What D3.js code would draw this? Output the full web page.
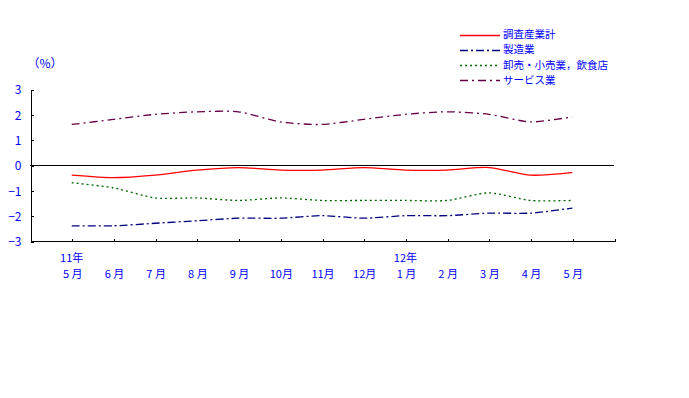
<!DOCTYPE html>
<html>
<head>
<meta charset="utf-8">
<script src="https://cdn.jsdelivr.net/npm/d3@7/dist/d3.min.js"></script>
<style>
  body { margin: 0; background: #fff; }
  text { font-family: "Noto Sans CJK JP", sans-serif; fill: #0000ff; }
</style>
</head>
<body>
<svg width="689" height="398"></svg>
<script>
(function () {
    // 月ラベル（年ラベルは別配列）
    var months = ['5 月', '6 月', '7 月', '8 月', '9 月', '10月', '11月', '12月', '1 月', '2 月', '3 月', '4 月', '5 月'];
    var years = ['11年', '', '', '', '', '', '', '', '12年', '', '', '', ''];
    var yTicks = [3, 2, 1, 0, -1, -2, -3];

    var seriesNames = ['調査産業計', '製造業', '卸売・小売業，飲食店', 'サービス業'];
    var total = [-0.4, -0.5, -0.4, -0.2, -0.1, -0.2, -0.2, -0.1, -0.2, -0.2, -0.1, -0.4, -0.3];
    var manufacturing = [-2.4, -2.4, -2.3, -2.2, -2.1, -2.1, -2.0, -2.1, -2.0, -2.0, -1.9, -1.9, -1.7];
    var retail = [-0.7, -0.9, -1.3, -1.3, -1.4, -1.3, -1.4, -1.4, -1.4, -1.4, -1.1, -1.4, -1.4];
    var services = [1.6, 1.8, 2.0, 2.1, 2.1, 1.7, 1.6, 1.8, 2.0, 2.1, 2.0, 1.7, 1.9];

    var styles = [
        { color: '#ff0000', dash: null },
        { color: '#000080', dash: '8,3,2,3' },
        { color: '#006600', dash: '2,3' },
        { color: '#660044', dash: '8,4,2,4' }
    ];
    var allSeries = [total, manufacturing, retail, services];

    var svg = d3.select('svg');

    var x = d3.scaleLinear().domain([0, months.length + 1]).range([30, 614]);
    var y = d3.scaleLinear().domain([-3, 3]).range([241, 89]);

    // 軸
    var yAxis = d3.axisLeft(y).tickValues(yTicks).tickSize(-3).tickPadding(9)
        .tickFormat(function(d) { return d < 0 ? '−' + Math.abs(d) : d; });
    var gy = svg.append('g').attr('transform', 'translate(30.5,0.5)').call(yAxis);
    gy.select('.domain').attr('stroke', '#000').attr('shape-rendering', 'crispEdges');
    gy.selectAll('line').attr('stroke', '#000').attr('shape-rendering', 'crispEdges');
    gy.selectAll('text').attr('fill', '#0000ff').style('font-size', '12px').attr('dy', '0.35em');

    var xAxis = d3.axisBottom(x).tickValues(d3.range(1, months.length + 2)).tickSize(-3).tickFormat('');
    var gx = svg.append('g').attr('transform', 'translate(0.5,241.5)').call(xAxis);
    gx.select('.domain').attr('d', 'M' + x(0) + ',0H' + x(months.length + 1)).attr('stroke', '#000');
    gx.selectAll('line').attr('stroke', '#000').attr('shape-rendering', 'crispEdges');
    gx.select('.domain').attr('shape-rendering', 'crispEdges');

    // ゼロ線
    svg.append('line')
        .attr('x1', x(0)).attr('x2', x(months.length + 1))
        .attr('y1', Math.round(y(0)) + 0.5).attr('y2', Math.round(y(0)) + 0.5)
        .attr('stroke', '#000').attr('shape-rendering', 'crispEdges');

    // x ラベル
    svg.selectAll('.month').data(months).enter().append('text')
        .attr('class', 'month')
        .attr('x', function(d, i) { return x(i + 1) + 1; })
        .attr('y', 278)
        .attr('text-anchor', 'middle')
        .style('font-size', '11px')
        .text(function(d) { return d; });
    svg.selectAll('.year').data(years).enter().append('text')
        .attr('class', 'year')
        .attr('x', function(d, i) { return x(i + 1); })
        .attr('y', 262)
        .attr('text-anchor', 'middle')
        .style('font-size', '11px')
        .text(function(d) { return d; });

    svg.append('text').attr('x', 45).attr('y', 68).attr('text-anchor', 'middle')
        .style('font-size', '12px').text('（%）');

    // 系列線
    var line = d3.line()
        .x(function(d, i) { return x(i + 1); })
        .y(function(d) { return y(d); })
        .curve(d3.curveCardinal.tension(0.3));

    svg.selectAll('.series').data(allSeries).enter().append('path')
        .attr('class', 'series')
        .attr('d', line)
        .attr('fill', 'none')
        .attr('stroke', function(d, i) { return styles[i].color; })
        .attr('stroke-width', 1.3)
        .attr('stroke-dasharray', function(d, i) { return styles[i].dash; });

    // 凡例
    var legend = svg.append('g');
    var legendY = d3.scaleLinear().domain([0, 1]).range([34.5, 49.7]);
    seriesNames.forEach(function(name, i) {
        var ly = legendY(i);
        var lineY = Math.round(ly) + 0.5;
        legend.append('line')
            .attr('x1', 460).attr('x2', 500).attr('y1', lineY).attr('y2', lineY)
            .attr('stroke', styles[i].color)
            .attr('stroke-width', 1.3)
            .attr('stroke-dasharray', styles[i].dash);
        legend.append('text')
            .attr('x', 503).attr('y', ly).attr('dy', '0.35em')
            .style('font-size', '10.5px')
            .text(name);
    });
}());
</script>
</body>
</html>
